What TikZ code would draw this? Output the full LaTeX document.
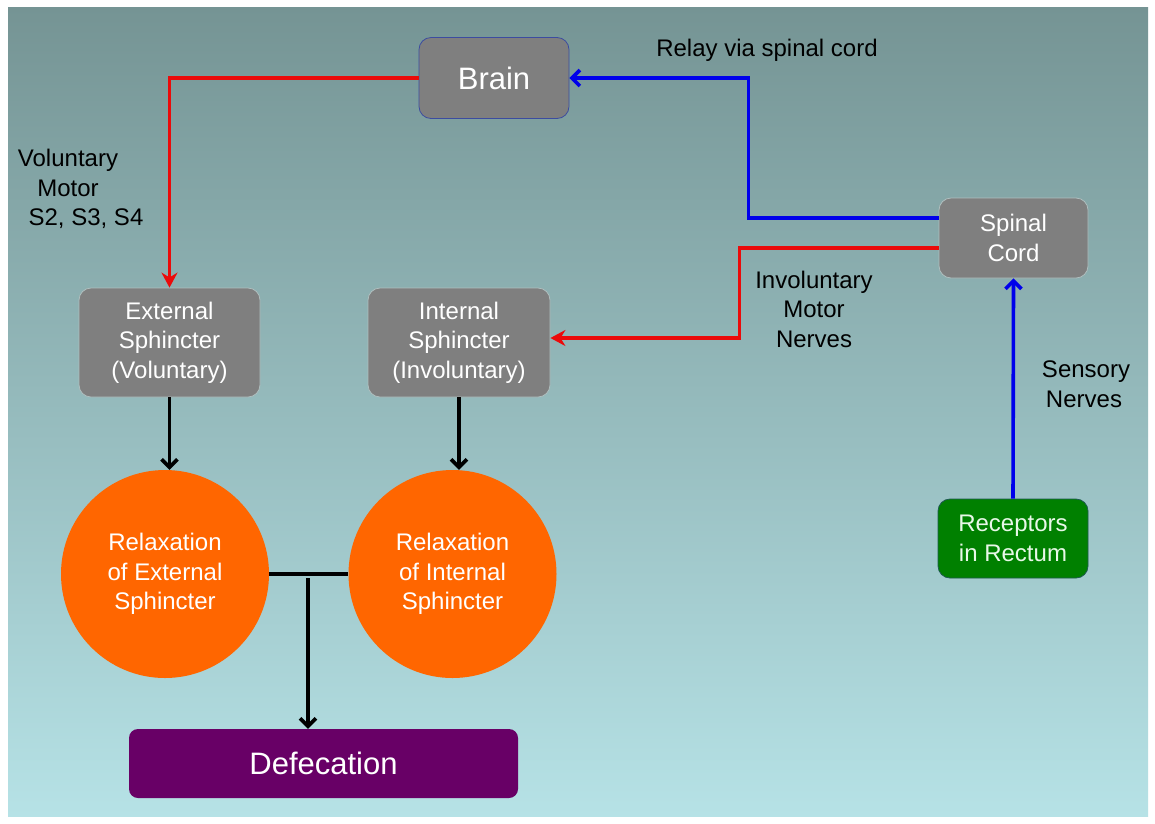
\documentclass[tikz,border=0pt]{standalone}
\usepackage{fontspec}
\setmainfont{Liberation Sans}
\usetikzlibrary{arrows.meta}
\definecolor{bgtop}{RGB}{117,148,148}
\definecolor{bgbot}{RGB}{182,226,230}
\definecolor{boxgray}{RGB}{127,127,127}
\definecolor{boxedge}{RGB}{175,190,190}
\definecolor{brainedge}{RGB}{60,76,160}
\definecolor{orng}{RGB}{255,102,0}
\definecolor{purp}{RGB}{104,0,102}
\definecolor{grn}{RGB}{0,128,0}
\definecolor{grnedge}{RGB}{30,90,80}
\definecolor{rline}{RGB}{235,10,10}
\definecolor{bline}{RGB}{0,0,235}
\definecolor{paletxt}{RGB}{232,248,232}
\begin{document}
\begin{tikzpicture}[x=1pt,y=-1pt,
  txt/.style={font=\fontsize{24}{29.5}\selectfont},
  graybox/.style={rectangle, rounded corners=12pt, fill=boxgray, draw=boxedge, line width=0.8pt,
    text=white, txt, align=center, inner sep=0pt},
  orangecirc/.style={circle, fill=orng, draw=none, minimum size=208pt, inner sep=0pt,
    text=white, txt, align=center},
  lbl/.style={text=black, txt, align=center, inner sep=0pt},
  redarr/.style={draw=rline, line width=3.6pt, -{Stealth[length=15pt,width=16pt]}},
  bluearr/.style={draw=bline, line width=3.6pt, -{Straight Barb[length=8pt,width=16pt,line width=3.6pt]}},
  blackarr/.style={draw=black, line width=3.6pt, -{Straight Barb[length=8pt,width=16pt,line width=3.6pt]}},
  blackline/.style={draw=black, line width=3.6pt}
]
\useasboundingbox (0,0) rectangle (1155,823);
\fill[white] (0,0) rectangle (1155,823);
\shade[top color=bgtop, bottom color=bgbot] (8,7) rectangle (1148,816);

% nodes
\node[graybox, draw=brainedge, minimum width=150pt, minimum height=81pt,
  font=\fontsize{31}{36}\selectfont] (brain) at (494,78) {Brain};
\node[graybox, minimum width=181pt, minimum height=109pt] (ext) at (169.5,342.5)
  {External\\Sphincter\\(Voluntary)};
\node[graybox, minimum width=182pt, minimum height=109pt] (int) at (459,342.5)
  {Internal\\Sphincter\\(Involuntary)};
\node[graybox, minimum width=149pt, minimum height=80pt] (spinal) at (1013.5,238)
  {Spinal\\Cord};
\node[graybox, fill=grn, draw=grnedge, text=paletxt, minimum width=150pt, minimum height=79pt]
  (recep) at (1013,538.5) {Receptors\\in Rectum};
\node[orangecirc] (cext) at (165,574) {Relaxation\\of External\\Sphincter};
\node[orangecirc] (cint) at (452.5,574) {Relaxation\\of Internal\\Sphincter};
\node[rectangle, rounded corners=9pt, fill=purp, text=white, minimum width=389pt,
  minimum height=69pt, inner sep=0pt, font=\fontsize{31}{36}\selectfont]
  (defe) at (323.5,763.5) {Defecation};

% labels
\node[lbl] (vol) at (68,189) {Voluntary\\Motor\\\hspace*{36pt}S2, S3, S4};
\node[lbl] (relay) at (767,50) {Relay via spinal cord};
\node[lbl] (inv) at (814,309) {Involuntary\\Motor\\Nerves};
\node[lbl, align=left] (sens) at (1086,384) {Sensory\\\hspace*{4pt}Nerves};

% connectors
\draw[redarr] (brain.west) -| (ext.north);
\draw[redarr] ([yshift=-10pt]spinal.west) -- ++(-199,0) |- ([yshift=4.5pt]int.east);
\draw[bluearr] ([yshift=20pt]spinal.west) -- ++(-190,0) |- (brain.east);
\draw[bluearr] (recep.north) -- (spinal.south);
\draw[blackarr] (ext.south) -- (ext.south |- cext.north);
\draw[blackarr] (int.south) -- (int.south |- cint.north);
\draw[blackline] (cext.east) -- (cint.west);
\coordinate (j) at (308,578);
\draw[blackarr] (j) -- (j |- defe.north);
\end{tikzpicture}
\end{document}
